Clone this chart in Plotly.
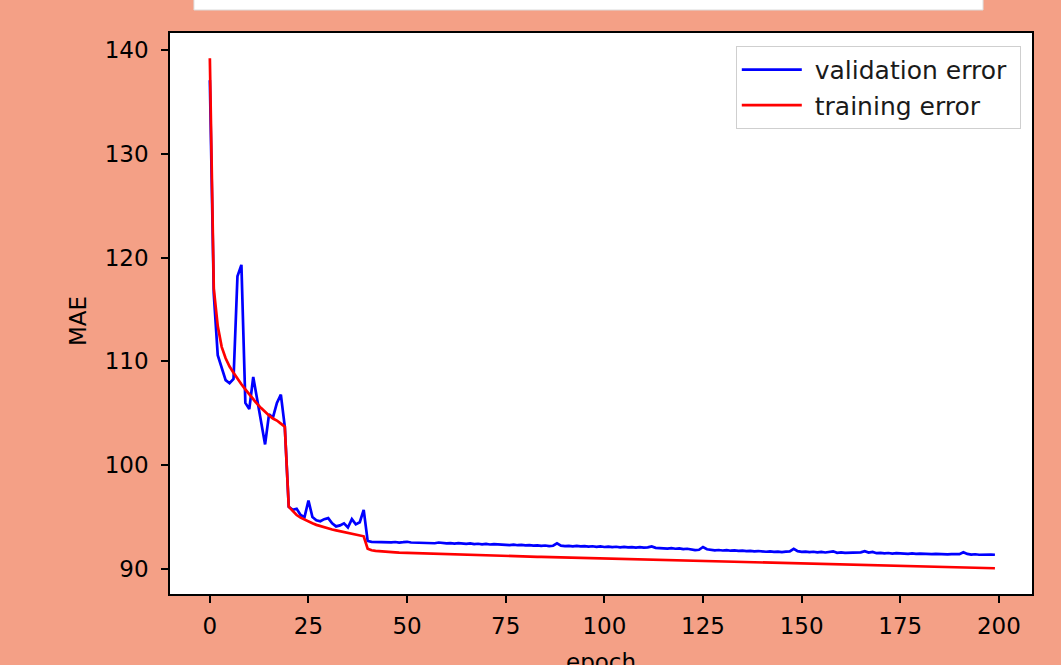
import plotly.graph_objects as go

# validation error (blue), one value per epoch 0..199
validation_error = [
    137.1, 116.5, 110.6, 109.5, 108.2, 107.9, 108.3, 118.2, 119.3, 106.0,
    105.4, 108.5, 106.4, 104.3, 102.0, 104.9, 104.6, 106.0, 106.8, 103.7,
    96.0, 95.7, 95.8, 95.2, 95.0, 96.6, 95.0, 94.7, 94.6, 94.8,
    94.9, 94.4, 94.1, 94.2, 94.4, 94.0, 94.8, 94.3, 94.5, 95.7,
    92.7, 92.62, 92.60, 92.63, 92.58, 92.61, 92.57, 92.60, 92.55, 92.58,
    92.62, 92.55, 92.53, 92.57, 92.50, 92.54, 92.52, 92.48, 92.55, 92.50,
    92.46, 92.49, 92.45, 92.50, 92.44, 92.42, 92.46, 92.40, 92.43, 92.38,
    92.41, 92.36, 92.39, 92.35, 92.38, 92.33, 92.30, 92.34, 92.29, 92.32,
    92.27, 92.30, 92.25, 92.28, 92.22, 92.26, 92.21, 92.24, 92.47, 92.25,
    92.20, 92.23, 92.18, 92.22, 92.17, 92.20, 92.15, 92.19, 92.14, 92.17,
    92.12, 92.16, 92.11, 92.14, 92.09, 92.13, 92.08, 92.11, 92.06, 92.10,
    92.05, 92.08, 92.18, 92.04, 92.00, 92.03, 91.97, 92.01, 91.95, 91.98,
    91.92, 91.95, 91.88, 91.82, 91.85, 92.12, 91.90, 91.84, 91.80, 91.83,
    91.78, 91.81, 91.76, 91.79, 91.74, 91.77, 91.72, 91.75, 91.70, 91.73,
    91.68, 91.66, 91.70, 91.65, 91.68, 91.63, 91.67, 91.70, 91.95, 91.72,
    91.65, 91.68, 91.62, 91.66, 91.60, 91.64, 91.59, 91.62, 91.70, 91.56,
    91.60, 91.55, 91.58, 91.54, 91.57, 91.60, 91.72, 91.58, 91.65, 91.52,
    91.55, 91.50, 91.54, 91.49, 91.52, 91.48, 91.51, 91.46, 91.50, 91.45,
    91.48, 91.44, 91.47, 91.43, 91.46, 91.42, 91.45, 91.41, 91.44, 91.40,
    91.43, 91.62, 91.45, 91.38, 91.42, 91.37, 91.40, 91.36, 91.39, 91.37,
]

# training error (red), one value per epoch 0..199
training_error = [
    139.2, 117.0, 113.4, 111.4, 110.3, 109.5, 108.9, 108.3, 107.8, 107.3,
    106.8, 106.4, 105.9, 105.5, 105.1, 104.8, 104.5, 104.3, 104.0, 103.7,
    96.0, 95.6, 95.2, 94.95, 94.75, 94.55, 94.4, 94.25, 94.12, 94.0,
    93.9, 93.8, 93.72, 93.64, 93.56, 93.48, 93.4, 93.32, 93.24, 93.15,
    91.95, 91.8, 91.74, 91.70, 91.67, 91.64, 91.62, 91.60, 91.58, 91.57,
    91.55, 91.54, 91.52, 91.51, 91.49, 91.48, 91.47, 91.45, 91.44, 91.43,
    91.42, 91.40, 91.39, 91.38, 91.37, 91.36, 91.34, 91.33, 91.32, 91.31,
    91.30, 91.29, 91.28, 91.27, 91.26, 91.25, 91.24, 91.23, 91.22, 91.21,
    91.20, 91.19, 91.18, 91.17, 91.16, 91.15, 91.14, 91.13, 91.12, 91.11,
    91.10, 91.10, 91.09, 91.08, 91.07, 91.06, 91.05, 91.04, 91.03, 91.02,
    91.01, 91.00, 91.00, 90.99, 90.98, 90.97, 90.96, 90.95, 90.94, 90.93,
    90.92, 90.91, 90.90, 90.90, 90.89, 90.88, 90.87, 90.86, 90.85, 90.84,
    90.83, 90.82, 90.81, 90.80, 90.79, 90.78, 90.77, 90.76, 90.75, 90.74,
    90.73, 90.72, 90.71, 90.70, 90.70, 90.69, 90.68, 90.67, 90.66, 90.65,
    90.64, 90.63, 90.62, 90.61, 90.60, 90.59, 90.58, 90.57, 90.56, 90.55,
    90.54, 90.53, 90.52, 90.51, 90.50, 90.50, 90.49, 90.48, 90.47, 90.46,
    90.45, 90.44, 90.43, 90.42, 90.41, 90.40, 90.39, 90.38, 90.37, 90.36,
    90.35, 90.34, 90.33, 90.32, 90.31, 90.30, 90.30, 90.29, 90.28, 90.27,
    90.26, 90.25, 90.24, 90.23, 90.22, 90.21, 90.20, 90.19, 90.18, 90.17,
    90.16, 90.15, 90.14, 90.13, 90.12, 90.11, 90.10, 90.09, 90.08, 90.07,
]

epochs = list(range(len(validation_error)))

series_names = ["validation error", "training error"]
x_ticks = [0, 25, 50, 75, 100, 125, 150, 175, 200]
y_ticks = [90, 100, 110, 120, 130, 140]

BG = "#F4A086"
FONT = "DejaVu Sans"
NB = "\u00a0"

fig = go.Figure()
fig.add_trace(go.Scatter(x=epochs, y=validation_error, mode="lines",
                         name=NB + series_names[0] + NB, legendgroup="v",
                         line=dict(color="#0000FF", width=2.7)))
fig.add_trace(go.Scatter(x=epochs, y=training_error, mode="lines",
                         name=NB + series_names[1], legendgroup="t",
                         line=dict(color="#FF0000", width=2.7)))

axis_common = dict(showline=True, linecolor="black", linewidth=1.5, mirror=True,
                   ticks="outside", ticklen=7, tickwidth=1.5, tickcolor="black",
                   showgrid=False, zeroline=False,
                   tickfont=dict(family=FONT, size=23, color="black"))

fig.update_xaxes(range=[-10.1, 208.4], tickvals=x_ticks,
                 ticklabelstandoff=4, **axis_common)
fig.update_yaxes(range=[87.59, 141.64], tickvals=y_ticks,
                 ticklabelstandoff=8, **axis_common)

fig.update_layout(
    width=1061, height=665,
    margin=dict(l=170, r=29, t=33, b=71, autoexpand=False),
    paper_bgcolor=BG, plot_bgcolor="white",
    font=dict(family=FONT, size=23, color="black"),
    showlegend=True,
    legend=dict(x=0.987, y=0.977, xanchor="right", yanchor="top",
                bgcolor="white", bordercolor="#cfcfcf", borderwidth=1,
                font=dict(family=FONT, size=25, color="#1a1a1a"),
                itemwidth=60, tracegroupgap=7, traceorder="normal"),
    shapes=[dict(type="rect", xref="paper", yref="paper",
                 x0=0.0278, x1=0.9432, y0=1.041, y1=1.07,
                 fillcolor="white", line=dict(color="#dddddd", width=1))],
    annotations=[
        dict(text="epoch", xref="paper", yref="paper", x=0.5, y=-0.094,
             xanchor="center", yanchor="top", showarrow=False,
             font=dict(family=FONT, size=23, color="black")),
        dict(text="MAE", xref="paper", yref="paper", x=-0.1067, y=0.4866,
             xanchor="center", yanchor="middle", textangle=-90, showarrow=False,
             font=dict(family=FONT, size=23, color="black")),
    ],
)

fig.write_html(
    "out.html",
    config={"displayModeBar": False},
    post_script="document.body.style.margin='0';document.body.style.background='#F4A086';",
)
